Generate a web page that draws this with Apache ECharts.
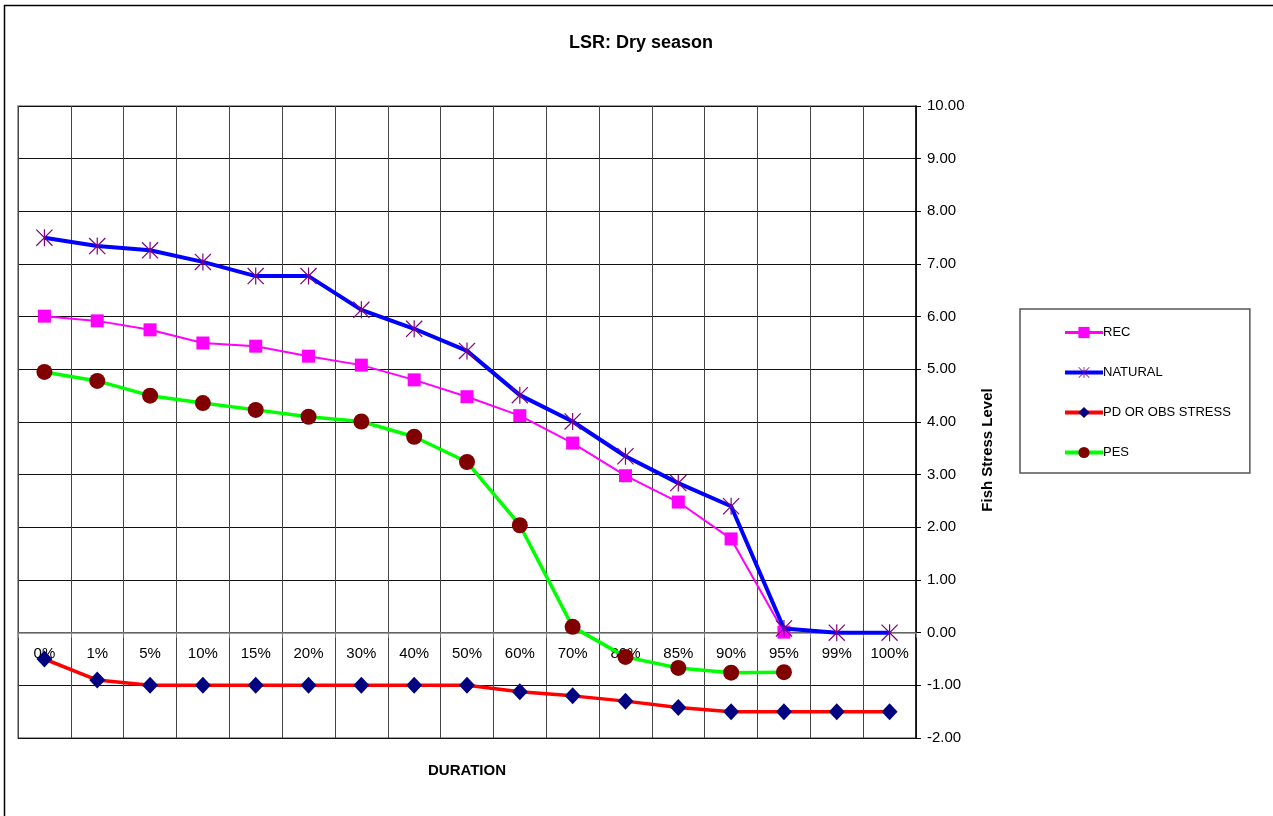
<!DOCTYPE html>
<html>
<head>
<meta charset="utf-8">
<title>LSR: Dry season</title>
<script src="https://cdn.jsdelivr.net/npm/echarts@6/dist/echarts.min.js"></script>
<style>
  html, body { margin: 0; padding: 0; background: #fff; }
  #chart { width: 1273px; height: 816px; }
</style>
</head>
<body>
<div id="chart"></div>
<script>
// duration categories and fish stress levels
const durations = ['0%', '1%', '5%', '10%', '15%', '20%', '30%', '40%', '50%', '60%', '70%', '80%', '85%', '90%', '95%', '99%', '100%'];
const recValues = [6.01, 5.92, 5.75, 5.50, 5.44, 5.25, 5.08, 4.80, 4.48, 4.12, 3.60, 2.98, 2.48, 1.78, 0.01, '-', '-'];
const naturalValues = [7.50, 7.34, 7.26, 7.04, 6.77, 6.77, 6.13, 5.77, 5.35, 4.51, 4.01, 3.35, 2.84, 2.40, 0.08, 0, 0];
const pdValues = [-0.5, -0.9, -1.0, -1.0, -1.0, -1.0, -1.0, -1.0, -1.0, -1.12, -1.2, -1.3, -1.42, -1.5, -1.5, -1.5, -1.5];
const pesValues = [4.95, 4.78, 4.50, 4.36, 4.23, 4.10, 4.01, 3.72, 3.24, 2.04, 0.11, -0.46, -0.67, -0.76, -0.75, '-', '-'];

const yMin = -2;
const yMax = 10;

const font = '"Liberation Sans", Arial, sans-serif';
// asterisk marker (X plus vertical bar), like the excel star marker
const starPath = 'path://M9.3 0L10.7 0L10.7 20L9.3 20Z M0 1L1 0L20 19L19 20Z M0 19L19 0L20 1L1 20Z';

// plot box (px) – the category axis sits on the zero line, so shift it up from the bottom
const gridTop = 106;
const gridBottom = 78;
const plotHeight = 816 - gridTop - gridBottom;
const zeroOffset = -plotHeight * (0 - yMin) / (yMax - yMin);

const myChart = echarts.init(document.getElementById('chart'));

const option = {
    backgroundColor: '#fff',
    animation: false,
    title: {
        text: 'LSR: Dry season',
        left: 564,
        top: 29,
        textStyle: {
            fontFamily: font,
            fontSize: 18,
            fontWeight: 'bold',
            color: '#000'
        }
    },
    graphic: [{
        type: 'rect',
        shape: { x: 4.5, y: 5.5, width: 1290, height: 830 },
        style: { fill: 'none', stroke: '#000', lineWidth: 1.5 },
        silent: true
    }],
    legend: {
        orient: 'vertical',
        left: 1020,
        top: 309,
        padding: [17, 19, 14, 43],
        itemGap: 27,
        itemWidth: 38,
        itemHeight: 14,
        borderColor: '#555',
        borderWidth: 1.5,
        textStyle: {
            fontFamily: font,
            fontSize: 13,
            color: '#000',
            padding: [0, 0, 0, -5]
        },
        data: [
            { name: 'REC', lineStyle: { width: 3 } },
            { name: 'NATURAL', lineStyle: { width: 4 } },
            { name: 'PD OR OBS STRESS', lineStyle: { width: 4 } },
            { name: 'PES', lineStyle: { width: 4 } }
        ]
    },
    grid: {
        left: 18,
        right: 357,
        top: gridTop,
        bottom: gridBottom,
        outerBoundsMode: 'none',
        show: true,
        borderColor: '#808080',
        borderWidth: 1.5
    },
    xAxis: {
        type: 'category',
        data: durations,
        boundaryGap: true,
        position: 'bottom',
        offset: zeroOffset,
        name: 'DURATION',
        nameLocation: 'middle',
        nameGap: 131,
        nameTextStyle: {
            fontFamily: font,
            fontSize: 15,
            fontWeight: 'bold',
            color: '#000'
        },
        axisLine: {
            onZero: false,
            lineStyle: { color: '#808080', width: 1.5 }
        },
        axisTick: {
            show: true,
            length: 5,
            lineStyle: { color: '#808080' }
        },
        axisLabel: {
            interval: 0,
            margin: 14,
            fontFamily: font,
            fontSize: 15,
            color: '#000'
        },
        splitLine: {
            show: true,
            interval: 0,
            lineStyle: { color: '#444', width: 1 }
        }
    },
    yAxis: {
        type: 'value',
        position: 'right',
        min: yMin,
        max: yMax,
        interval: 1,
        name: 'Fish Stress Level',
        nameLocation: 'middle',
        nameGap: 64,
        nameRotate: 90,
        nameTextStyle: {
            fontFamily: font,
            fontSize: 15,
            fontWeight: 'bold',
            color: '#000',
            padding: [0, 56, 0, 0]
        },
        axisLine: {
            show: true,
            lineStyle: { color: '#000', width: 1.5 }
        },
        axisTick: {
            show: true,
            length: 5,
            lineStyle: { color: '#000' }
        },
        axisLabel: {
            margin: 11,
            fontFamily: font,
            fontSize: 15,
            color: '#000',
            formatter: v => v.toFixed(2)
        },
        splitLine: {
            show: true,
            lineStyle: { color: '#111', width: 1 }
        }
    },
    series: [
        {
            name: 'REC',
            type: 'line',
            data: recValues,
            symbol: 'rect',
            symbolSize: 13,
            itemStyle: { color: '#FF00FF' },
            lineStyle: { color: '#FF00FF', width: 2 },
            z: 3
        },
        {
            name: 'NATURAL',
            type: 'line',
            data: naturalValues,
            symbol: starPath,
            symbolSize: 17,
            itemStyle: { color: '#800080' },
            lineStyle: { color: '#0000FF', width: 4 },
            z: 4
        },
        {
            name: 'PD OR OBS STRESS',
            type: 'line',
            data: pdValues,
            symbol: 'diamond',
            symbolSize: [16, 17],
            itemStyle: { color: '#000080' },
            lineStyle: { color: '#FF0000', width: 3.5 },
            z: 3
        },
        {
            name: 'PES',
            type: 'line',
            data: pesValues,
            symbol: 'circle',
            symbolSize: 16,
            itemStyle: { color: '#800000' },
            lineStyle: { color: '#00FF00', width: 3.5 },
            z: 3
        }
    ]
};

myChart.setOption(option);
</script>
</body>
</html>
